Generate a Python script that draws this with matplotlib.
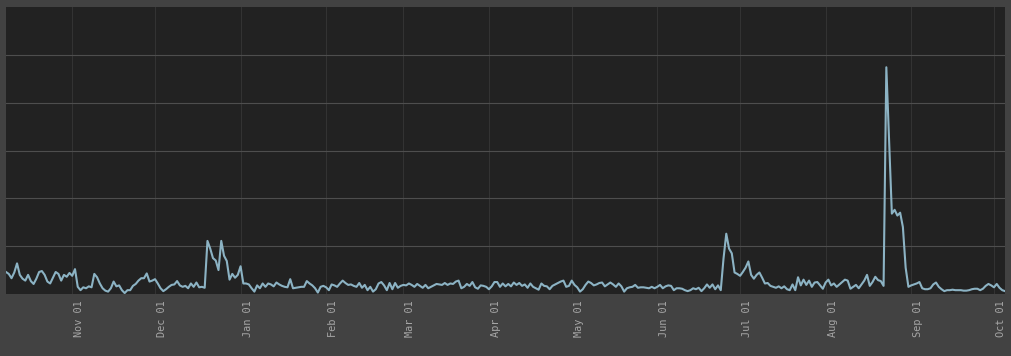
import matplotlib

matplotlib.use('Agg')
import matplotlib.pyplot as plt
import matplotlib.dates as mdates
import matplotlib.transforms as mtransforms
import pandas as pd

# дневной ряд, начиная с 8 октября
start_date = '2014-10-08'
values = [
    0.46, 0.42, 0.33, 0.45, 0.64, 0.40, 0.32, 0.28, 0.40, 0.27,
    0.21, 0.32, 0.46, 0.48, 0.40, 0.26, 0.22, 0.34, 0.46, 0.42,
    0.28, 0.40, 0.36, 0.44, 0.38, 0.52, 0.15, 0.08, 0.14, 0.12,
    0.16, 0.14, 0.42, 0.35, 0.22, 0.12, 0.07, 0.05, 0.12, 0.26,
    0.16, 0.18, 0.08, 0.02, 0.08, 0.08, 0.17, 0.21, 0.28, 0.33,
    0.33, 0.43, 0.26, 0.28, 0.31, 0.22, 0.12, 0.06, 0.10, 0.15,
    0.19, 0.20, 0.27, 0.18, 0.15, 0.17, 0.12, 0.22, 0.15, 0.24,
    0.14, 0.15, 0.13, 1.11, 0.95, 0.75, 0.70, 0.50, 1.11, 0.80,
    0.69, 0.30, 0.42, 0.34, 0.40, 0.58, 0.22, 0.22, 0.20, 0.12,
    0.05, 0.18, 0.12, 0.22, 0.15, 0.22, 0.20, 0.16, 0.24, 0.20,
    0.17, 0.15, 0.14, 0.31, 0.12, 0.13, 0.14, 0.15, 0.15, 0.27,
    0.22, 0.18, 0.12, 0.03, 0.15, 0.17, 0.14, 0.08, 0.20, 0.18,
    0.15, 0.22, 0.28, 0.23, 0.19, 0.20, 0.17, 0.15, 0.23, 0.13,
    0.19, 0.08, 0.15, 0.05, 0.10, 0.22, 0.25, 0.18, 0.08, 0.23,
    0.10, 0.23, 0.13, 0.17, 0.19, 0.18, 0.22, 0.19, 0.15, 0.21,
    0.17, 0.13, 0.19, 0.12, 0.15, 0.18, 0.21, 0.20, 0.19, 0.23,
    0.19, 0.22, 0.21, 0.26, 0.28, 0.12, 0.15, 0.21, 0.17, 0.25,
    0.14, 0.11, 0.18, 0.17, 0.15, 0.10, 0.16, 0.25, 0.25, 0.15,
    0.22, 0.16, 0.21, 0.16, 0.24, 0.19, 0.23, 0.17, 0.20, 0.13,
    0.22, 0.15, 0.12, 0.09, 0.22, 0.17, 0.16, 0.10, 0.17, 0.20,
    0.23, 0.26, 0.28, 0.15, 0.17, 0.28, 0.19, 0.14, 0.05, 0.10,
    0.19, 0.26, 0.23, 0.18, 0.20, 0.23, 0.24, 0.16, 0.20, 0.24,
    0.20, 0.15, 0.22, 0.16, 0.05, 0.12, 0.14, 0.15, 0.19, 0.13,
    0.14, 0.14, 0.13, 0.12, 0.15, 0.12, 0.15, 0.19, 0.12, 0.16,
    0.18, 0.17, 0.08, 0.12, 0.12, 0.11, 0.08, 0.06, 0.08, 0.12,
    0.10, 0.13, 0.06, 0.12, 0.20, 0.13, 0.20, 0.10, 0.18, 0.08,
    0.74, 1.26, 0.95, 0.85, 0.45, 0.42, 0.38, 0.46, 0.55, 0.68,
    0.40, 0.32, 0.40, 0.45, 0.34, 0.22, 0.23, 0.17, 0.15, 0.13,
    0.16, 0.12, 0.16, 0.10, 0.08, 0.20, 0.08, 0.35, 0.18, 0.30,
    0.19, 0.28, 0.15, 0.24, 0.25, 0.18, 0.11, 0.24, 0.30, 0.18,
    0.22, 0.15, 0.20, 0.25, 0.30, 0.28, 0.11, 0.15, 0.19, 0.12,
    0.20, 0.28, 0.40, 0.17, 0.25, 0.36, 0.29, 0.27, 0.17, 4.74,
    3.20, 1.68, 1.76, 1.64, 1.70, 1.40, 0.55, 0.15, 0.18, 0.20,
    0.22, 0.25, 0.12, 0.10, 0.10, 0.12, 0.20, 0.24, 0.15, 0.10,
    0.06, 0.08, 0.08, 0.09, 0.08, 0.08, 0.08, 0.07, 0.07, 0.08,
    0.10, 0.11, 0.11, 0.08, 0.11, 0.17, 0.21, 0.18, 0.14, 0.21,
    0.13, 0.08, 0.06,
]
tick_dates = pd.date_range('2014-11-01', '2015-10-01', freq='MS')
tick_labels = [d.strftime('%b %d') for d in tick_dates]
y_grid = [1, 2, 3, 4, 5]

dates = pd.date_range(start_date, periods=len(values), freq='D')

fig = plt.figure(figsize=(10.12, 3.56), dpi=100, facecolor='#424242')
ax = fig.add_axes([6 / 1012, 62 / 356, 999 / 1012, 287 / 356])
ax.set_facecolor('#222222')

# вертикальная сетка по началу месяцев (бледная)
for d in tick_dates:
    ax.axvline(d, color='#333333', lw=0.8, zorder=1)
# горизонтальная сетка
for v in y_grid:
    ax.axhline(v, color='#4e4e4e', lw=0.8, zorder=1)

ax.plot(dates, values, color='#8cb3c4', lw=1.5, zorder=3)

ax.set_xlim(dates[0], dates[-1])
ax.set_ylim(0, 6)
ax.set_yticks([])
ax.set_xticks(tick_dates)
ax.set_xticklabels(tick_labels, rotation=90, family='DejaVu Sans Mono',
                   fontsize=7.4, color='#a6a6a6', va='top', ha='center')
ax.tick_params(axis='x', length=0, pad=4.5)
for s in ax.spines.values():
    s.set_visible(False)

# подписи сдвинуты вправо от линий сетки
offset = mtransforms.ScaledTranslation(7 / 100, 0, fig.dpi_scale_trans)
for label in ax.get_xticklabels():
    label.set_transform(label.get_transform() + offset)

fig.savefig('out.png', dpi=100, facecolor=fig.get_facecolor())
